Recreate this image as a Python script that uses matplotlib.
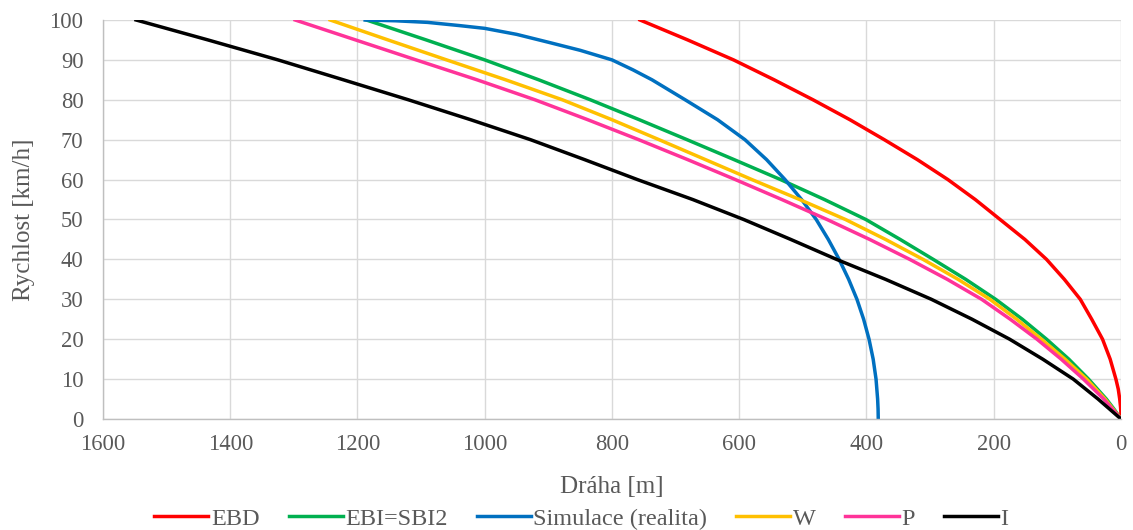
import matplotlib
matplotlib.use("Agg")
import matplotlib.pyplot as plt

# speeds [km/h] and braking distances [m]
ebd_v = [0, 1, 2, 3, 5, 7.5, 10, 15, 20, 25, 30, 35, 40, 45, 50, 55, 60, 65, 70, 75, 80, 85, 90, 95, 100]
ebd_s = [0, 0.08, 0.3, 0.7, 2, 4.3, 8, 17, 29, 46, 64, 89, 117, 151, 190, 229, 272, 320, 372, 426, 484, 545, 609, 681, 756]

ebi_v = [0, 2.5, 5, 7.5, 10, 15, 20, 25, 30, 35, 40, 45, 50, 55, 60, 65, 70, 75, 80, 85, 90, 95, 100]
ebi_s = [0, 11, 23, 37, 51, 82, 117, 155, 197, 244, 295, 347, 401, 466, 535, 608, 682, 757, 834, 915, 1000, 1092, 1186]

sim_v = [0, 2.5, 5, 10, 15, 20, 25, 30, 35, 40, 45, 50, 55, 60, 65, 70, 75, 80, 85, 87.5,
         90, 92.4, 94.3, 96.4, 97.9, 98.6, 99.4, 99.8, 100]
sim_s = [381.5, 381.8, 382.5, 385, 389.5, 396, 404.5, 415, 428, 443, 460, 479, 502, 528, 557, 591, 634, 685, 737, 767,
         800, 850, 897, 950, 1000, 1040, 1090, 1140, 1188]

w_v = [0, 5, 10, 15, 20, 25, 30, 35, 40, 45, 50, 55, 60, 65, 70, 75, 80, 85, 90, 95, 100]
w_s = [0, 25, 54, 88, 125, 164, 206, 256, 311, 370, 433, 505, 580, 653, 726, 800, 878, 967, 1060, 1152, 1243]

p_v = [0, 5, 10, 15, 20, 25, 30, 35, 40, 45, 50, 55, 60, 65, 70, 75, 80, 85, 90, 95, 100]
p_s = [0, 27, 59, 94, 132, 174, 219, 273, 332, 395, 462, 533, 606, 681, 758, 838, 921, 1012, 1108, 1203, 1298]

i_v = [0, 5, 10, 15, 20, 25, 30, 35, 40, 45, 50, 55, 60, 65, 70, 75, 80, 85, 90, 95, 100]
i_s = [0, 36, 75, 123, 175, 234, 298, 370, 447, 519, 593, 673, 760, 843, 928, 1022, 1120, 1222, 1325, 1435, 1548]

series = [
    ("EBD", ebd_s, ebd_v, "#FF0000"),
    ("EBI=SBI2", ebi_s, ebi_v, "#00B050"),
    ("Simulace (realita)", sim_s, sim_v, "#0070C0"),
    ("W", w_s, w_v, "#FFC000"),
    ("P", p_s, p_v, "#FF3399"),
    ("I", i_s, i_v, "#000000"),
]

plt.rcParams["font.family"] = ["Liberation Serif", "DejaVu Serif"]

fig = plt.figure(figsize=(11.33, 5.30), dpi=100)
ax = fig.add_axes([0.0909, 0.2094, 0.8985, 0.7529])

for name, s, v, color in series:
    ax.plot(s, v, color=color, linewidth=2.5, label=name, solid_joinstyle="round")

ax.set_xlim(1600, 0)
ax.set_ylim(0, 100)
ax.set_xticks(range(0, 1601, 200))
ax.set_yticks(range(0, 101, 10))
ax.grid(True, color="#D9D9D9", linewidth=1.0)
ax.set_axisbelow(True)
for side in ["top", "right"]:
    ax.spines[side].set_visible(False)
for side in ["left", "bottom"]:
    ax.spines[side].set_color("#BFBFBF")
    ax.spines[side].set_linewidth(1.0)

ax.tick_params(length=0, labelsize=16.3, labelcolor="#595959")
ax.tick_params(axis="x", pad=11)
ax.tick_params(axis="y", pad=14)
ax.set_xlabel("Dráha [m]", fontsize=18, color="#595959", va="center")
ax.set_ylabel("Rychlost [km/h]", fontsize=18, color="#595959", va="center")
ax.xaxis.set_label_coords(0.5, -0.170)
ax.yaxis.set_label_coords(-0.078, 0.5)

fig.legend(loc="center", bbox_to_anchor=(0.513, 0.021), ncol=6, frameon=False,
           fontsize=17.5, handlelength=2.22, handletextpad=0.1, columnspacing=1.2,
           labelcolor="#595959")

fig.savefig("out.png", dpi=100)
